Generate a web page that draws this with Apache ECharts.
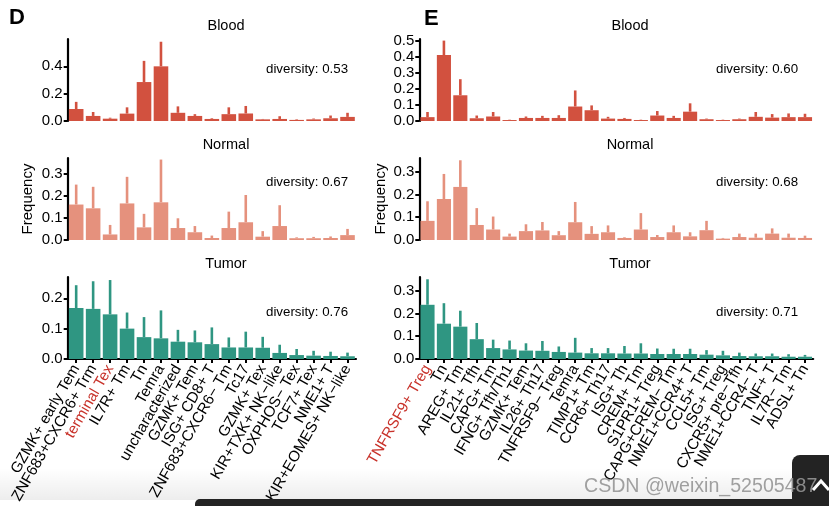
<!DOCTYPE html>
<html>
<head>
<meta charset="utf-8">
<script src="https://cdn.jsdelivr.net/npm/echarts@6/dist/echarts.min.js"></script>
<style>html,body{margin:0;padding:0;background:#fff}#c{width:829px;height:506px}</style>
</head>
<body>
<div id="c"></div>
<script>
// ---------- Panel D (CD8) ----------
const catsD = ['GZMK+ early Tem','ZNF683+CXCR6+ Trm','terminal Tex','IL7R+ Tm','Tn','Temra','uncharacterized','GZMK+ Tem','ISG+ CD8+ T','ZNF683+CXCR6− Tm','Tc17','GZMK+ Tex','KIR+TXK+ NK−like','OXPHOS− Tex','TCF7+ Tex','NME1+ T','KIR+EOMES+ NK−like'];
const bloodD      = [0.088,0.037,0.017,0.054,0.285,0.40,0.06,0.037,0.015,0.05,0.055,0.012,0.015,0.008,0.012,0.02,0.03];
const bloodDErr   = [0.14,0.066,0.024,0.10,0.44,0.58,0.107,0.05,0.02,0.10,0.11,0.015,0.035,0.012,0.018,0.04,0.06];
const normalD     = [0.16,0.143,0.025,0.165,0.057,0.17,0.054,0.035,0.009,0.054,0.08,0.015,0.063,0.008,0.008,0.009,0.022];
const normalDErr  = [0.25,0.24,0.068,0.285,0.118,0.363,0.098,0.063,0.02,0.128,0.203,0.04,0.157,0.012,0.014,0.016,0.05];
const tumorD      = [0.168,0.165,0.147,0.10,0.072,0.068,0.057,0.055,0.049,0.038,0.038,0.037,0.02,0.013,0.011,0.01,0.009];
const tumorDErr   = [0.243,0.256,0.26,0.153,0.138,0.16,0.096,0.094,0.104,0.071,0.09,0.073,0.047,0.033,0.027,0.024,0.021];
const diversityD  = ['0.53','0.67','0.76'];
const ticksD      = [[0,0.2,0.4],[0,0.1,0.2,0.3],[0,0.1,0.2]];
const maxD        = [0.6,0.37,0.27];

// ---------- Panel E (CD4) ----------
const catsE = ['TNFRSF9+ Treg','Tn','AREG+ Tm','IL21+ Tfh','CAPG+ Tm','IFNG+ Tfh/Th1','GZMK+ Tem','IL26+ Th17','TNFRSF9− Treg','Temra','TIMP1+ Tm','CCR6+ Th17','ISG+ Th','CREM+ Tm','S1PR1+ Treg','CAPG+CREM− Tm','NME1+CCR4+ T','CCL5+ Tm','ISG+ Treg','CXCR5+ pre−Tfh','NME1+CCR4− T','TNF+ T','IL7R− Tm','ADSL+ Tn'];
const bloodE      = [0.024,0.41,0.16,0.017,0.028,0.006,0.019,0.019,0.019,0.09,0.067,0.015,0.013,0.006,0.034,0.019,0.058,0.011,0.006,0.011,0.026,0.021,0.024,0.024];
const bloodEErr   = [0.056,0.50,0.26,0.034,0.056,0.008,0.028,0.032,0.036,0.19,0.097,0.026,0.019,0.008,0.062,0.032,0.11,0.015,0.008,0.015,0.056,0.043,0.047,0.045];
const normalE     = [0.084,0.18,0.233,0.066,0.046,0.015,0.039,0.042,0.021,0.078,0.027,0.034,0.009,0.046,0.013,0.034,0.016,0.043,0.006,0.013,0.01,0.028,0.01,0.009];
const normalEErr  = [0.17,0.29,0.35,0.14,0.103,0.028,0.069,0.079,0.039,0.167,0.061,0.064,0.012,0.118,0.022,0.064,0.034,0.084,0.009,0.028,0.028,0.051,0.028,0.019];
const tumorE      = [0.238,0.155,0.142,0.087,0.048,0.042,0.037,0.036,0.031,0.028,0.025,0.025,0.024,0.024,0.022,0.022,0.022,0.019,0.016,0.013,0.012,0.012,0.01,0.01];
const tumorEErr   = [0.35,0.245,0.212,0.158,0.085,0.081,0.069,0.079,0.055,0.093,0.048,0.048,0.057,0.069,0.046,0.045,0.045,0.039,0.036,0.028,0.024,0.024,0.021,0.018];
const diversityE  = ['0.60','0.68','0.71'];
const ticksE      = [[0,0.1,0.2,0.3,0.4,0.5],[0,0.1,0.2,0.3],[0,0.1,0.2,0.3]];
const maxE        = [0.51,0.36,0.36];

const tissues = ['Blood','Normal','Tumor'];
const highlightD = 'terminal Tex';
const highlightE = 'TNFRSF9+ Treg';

// ---------- layout / style ----------
const colors = ['#D2513F','#E5917D','#2F9682'];
const rowTop = [39,158,277];
const rowH = 82;
const colLeft = [67.7,419.3];
const colW = [288.3,393.9];
const FONT = 'Liberation Sans, Arial, sans-serif';

const chart = echarts.init(document.getElementById('c'), null, {renderer:'canvas'});

const grids = [], xAxes = [], yAxes = [], series = [];
const panels = [
  {cats:catsD, vals:[bloodD,normalD,tumorD], errs:[bloodDErr,normalDErr,tumorDErr], ticks:ticksD, max:maxD, hl:highlightD},
  {cats:catsE, vals:[bloodE,normalE,tumorE], errs:[bloodEErr,normalEErr,tumorEErr], ticks:ticksE, max:maxE, hl:highlightE}
];

panels.forEach((p, c) => {
  for (let r = 0; r < 3; r++) {
    const gi = grids.length;
    grids.push({left: colLeft[c], top: rowTop[r], width: colW[c], height: rowH,
                containLabel:false, outerBoundsMode:'none'});
    const isBottom = r === 2;
    xAxes.push({
      type:'category', gridIndex:gi,
      data: p.cats.map(n => n === p.hl ? {value:n, textStyle:{color:'#C8322A'}} : n),
      show: isBottom,
      axisLine:{show:true, onZero:false, lineStyle:{color:'#000', width:2.2}},
      axisTick:{show:true, alignWithLabel:true, length:4, lineStyle:{color:'#000', width:2}},
      axisLabel:{show:true, interval:0, rotate:60, margin:7, color:'#000', fontSize:15.2, fontFamily:FONT}
    });
    yAxes.push({
      type:'value', gridIndex:gi, min:0, max:p.max[r],
      splitLine:{show:false},
      axisLine:{show:true, lineStyle:{color:'#000', width:2.2}},
      axisTick:{show:true, length:4, lineStyle:{color:'#000', width:2}, customValues:p.ticks[r]},
      axisLabel:{color:'#000', fontSize:15, fontFamily:FONT, margin:5, customValues:p.ticks[r],
                 formatter: v => v.toFixed(1)}
    });
    series.push({
      type:'bar', xAxisIndex:gi, yAxisIndex:gi,
      data:p.vals[r], barCategoryGap:'14%',
      itemStyle:{color:colors[r]}, silent:true, animation:false
    });
    series.push({
      type:'custom', xAxisIndex:gi, yAxisIndex:gi, animation:false, silent:true,
      data:p.vals[r].map((v,i) => [i, v, p.errs[r][i]]),
      encode:{x:0, y:[1,2]},
      renderItem:(params, api) => {
        const a = api.coord([api.value(0), api.value(1)]);
        const b = api.coord([api.value(0), api.value(2)]);
        return {type:'line', shape:{x1:a[0], y1:a[1], x2:b[0], y2:b[1]},
                style:{stroke:colors[r], lineWidth:2.6}};
      },
      z:3
    });
  }
});

// texts
const graphics = [];
const titleX = [226, 630];
const titleY = [26, 145, 264];
const divX = [266, 716];
const divY = [69, 182, 312];
[diversityD, diversityE].forEach((d, c) => {
  for (let r = 0; r < 3; r++) {
    graphics.push({type:'text', x:titleX[c], y:titleY[r], style:{text:tissues[r], fill:'#000', font:'14.5px '+FONT, textAlign:'center', textVerticalAlign:'middle'}});
    graphics.push({type:'text', x:divX[c], y:divY[r], style:{text:'diversity: '+d[r], fill:'#000', font:'13.3px '+FONT, textAlign:'left', textVerticalAlign:'middle'}});
  }
});
graphics.push({type:'text', x:28, y:199, rotation:Math.PI/2, style:{text:'Frequency', fill:'#000', font:'15px '+FONT, textAlign:'center', textVerticalAlign:'middle'}});
graphics.push({type:'text', x:381, y:199, rotation:Math.PI/2, style:{text:'Frequency', fill:'#000', font:'15px '+FONT, textAlign:'center', textVerticalAlign:'middle'}});
graphics.push({type:'text', x:9, y:18, style:{text:'D', fill:'#000', font:'bold 22px '+FONT, textAlign:'left', textVerticalAlign:'middle'}});
graphics.push({type:'text', x:424, y:19, style:{text:'E', fill:'#000', font:'bold 22px '+FONT, textAlign:'left', textVerticalAlign:'middle'}});
// page overlay (screenshot chrome)
graphics.push({type:'rect', shape:{x:0, y:468, width:829, height:32}, z:50,
  style:{fill:{type:'linear', x:0, y:0, x2:0, y2:1, colorStops:[{offset:0, color:'rgba(0,0,0,0)'},{offset:1, color:'rgba(0,0,0,0.07)'}]}}});
graphics.push({type:'rect', shape:{x:195, y:499, width:640, height:10, r:[5,0,0,0]}, z:51, style:{fill:'#232323'}});
graphics.push({type:'rect', shape:{x:792, y:455, width:45, height:55, r:[8,0,0,0]}, z:52, style:{fill:'#232323'}});
graphics.push({type:'text', x:584, y:487, z:53, style:{text:'CSDN @weixin_52505487', fill:'rgba(150,150,150,0.9)', font:'19.6px '+FONT, textAlign:'left', textVerticalAlign:'middle'}});
graphics.push({type:'polyline', shape:{points:[[813,490],[821,481],[829,490]]}, z:54, style:{stroke:'#fff', lineWidth:3, fill:null}});

chart.setOption({
  animation:false,
  backgroundColor:'#fff',
  grid:grids, xAxis:xAxes, yAxis:yAxes, series:series,
  graphic:graphics
});
</script>
</body>
</html>
